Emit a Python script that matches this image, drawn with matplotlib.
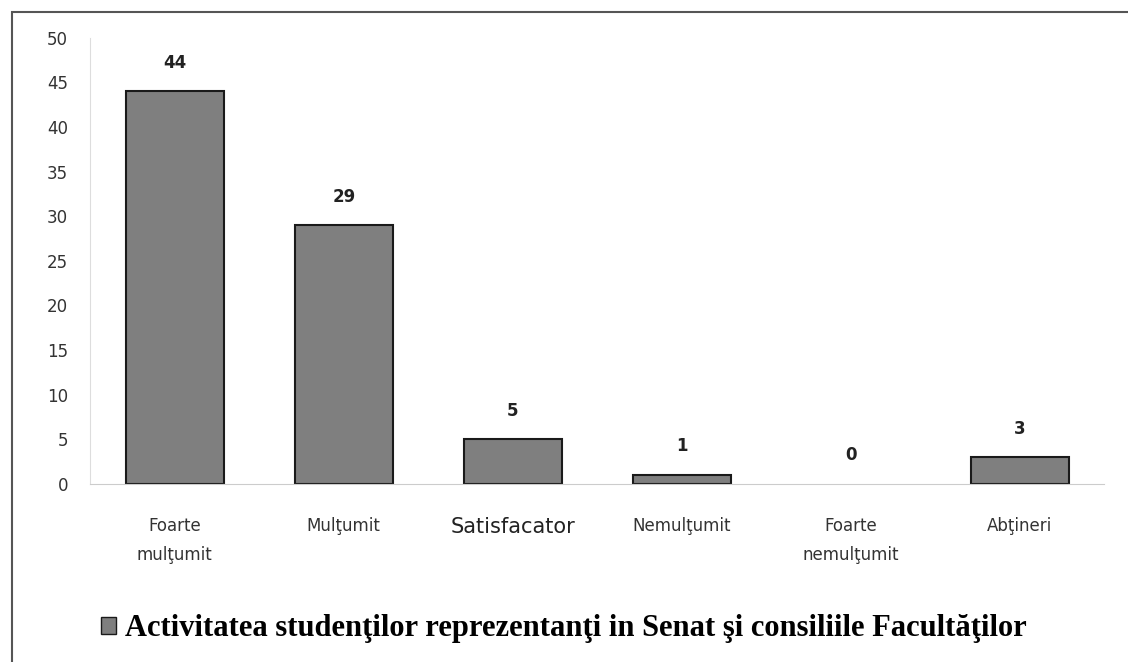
import matplotlib
matplotlib.use("Agg")
import matplotlib.pyplot as plt
from matplotlib.patches import Rectangle, Patch
import numpy as np

categories = ["Foarte\nmulţumit", "Mulţumit", "Satisfacator", "Nemulţumit", "Foarte\nnemulţumit", "Abţineri"]
values = [44, 29, 5, 1, 0, 3]
series_name = "Activitatea studenţilor reprezentanţi in Senat şi consiliile Facultăţilor"
yticks = [0, 5, 10, 15, 20, 25, 30, 35, 40, 45, 50]

fig = plt.figure(figsize=(11.28, 6.62), dpi=100)
ax = fig.add_axes([0.08, 0.269, 0.899, 0.674])

x = np.arange(len(categories))
lw = [1.5 if v > 0 else 0 for v in values]
bars = ax.bar(x, values, width=0.58, color="#7f7f7f", edgecolor="#1a1a1a", linewidth=lw)

for xi, v in zip(x, values):
    ax.text(xi, v + 2.2, str(v), ha="center", va="bottom", fontsize=12,
            fontweight="bold", color="#222222", family="DejaVu Sans")

ax.set_xlim(-0.5, len(categories) - 0.5)
ax.set_ylim(0, 50)
ax.set_yticks(yticks)
ax.set_xticks(x)
ax.set_xticklabels(categories, fontsize=12, color="#333333", family="DejaVu Sans",
                   linespacing=1.8)
ax.tick_params(axis="both", length=0, labelsize=12, colors="#333333")
ax.tick_params(axis="x", pad=24)
ax.tick_params(axis="y", pad=16)
for lbl in ax.get_xticklabels():
    lbl.set_verticalalignment("top")
ax.get_xticklabels()[2].set_fontsize(15)
ax.get_xticklabels()[2].set_color("#222222")

for side in ["top", "right"]:
    ax.spines[side].set_visible(False)
ax.spines["left"].set_color("#dddddd")
ax.spines["bottom"].set_color("#cccccc")

# legend at bottom
fig.legend(handles=[Patch(facecolor="#7f7f7f", edgecolor="#1a1a1a")], labels=[series_name],
           loc="center", bbox_to_anchor=(0.5, 0.05), frameon=False, handlelength=0.5,
           handleheight=0.5, handletextpad=0.3,
           prop={"family": "Liberation Serif", "weight": "bold", "size": 22})

# outer frame
fig.patches.append(Rectangle((0.011, -0.05), 1.1, 1.032, transform=fig.transFigure,
                             fill=False, edgecolor="#555555", linewidth=1.5))

fig.savefig("out.png", dpi=100, facecolor="white")
